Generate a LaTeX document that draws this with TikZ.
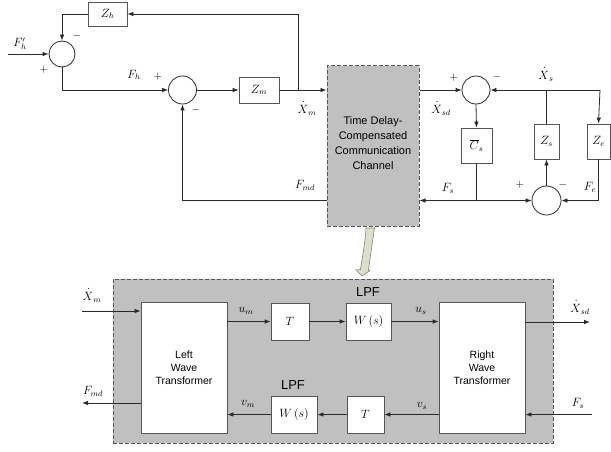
\documentclass[tikz,border=0pt]{standalone}
\usepackage{amsmath}
\usepackage[no-math]{fontspec}
\newfontfamily\arial{Liberation Sans}
\usetikzlibrary{arrows.meta}
\definecolor{chgray}{HTML}{C0C0C0}
\definecolor{linec}{HTML}{2A2A2A}
\definecolor{boxc}{HTML}{555555}
\definecolor{bendfill}{HTML}{DCE0C8}
\newcommand{\dX}{\overset{\kern1.5pt\displaystyle .}{X}}
\begin{document}
\begin{tikzpicture}[x=1pt,y=-1pt,
  ln/.style={draw=linec, line width=0.8pt},
  arr/.style={ln, -{Latex[length=6pt,width=4.6pt]}},
  blk/.style={draw=boxc, fill=white, line width=0.8pt, inner sep=0pt, font=\fontsize{12}{14}\selectfont},
  sumc/.style={circle, draw=linec, fill=white, line width=0.8pt, inner sep=0pt, minimum size=28pt},
  lab/.style={inner sep=0pt, font=\fontsize{12}{14}\selectfont},
  sgn/.style={inner sep=0pt, font=\fontsize{11}{12}\selectfont},
  chan/.style={draw=boxc, fill=chgray, line width=1pt, dash pattern=on 4pt off 2pt},
  sans/.style={inner sep=0pt, align=center},
]
\useasboundingbox (0,0) rectangle (611,452);

% ---------------- top diagram ----------------
\node[blk, minimum width=39pt, minimum height=24pt] (zh) at (107.5,14) {$Z_h$};
\node[sumc, minimum size=26pt] (s1) at (62,54) {};
\node[sumc] (s2) at (182.5,90) {};
\node[blk, minimum width=40pt, minimum height=26pt] (zm) at (259,90) {$Z_m$};
\node[chan, minimum width=92pt, minimum height=160pt] (ch) at (373,146) {};
\node[sans, font=\arial\fontsize{11}{15}\selectfont] (cht) at (373,143) {Time Delay-\\Compensated\\Communication\\Channel};
\node[sumc] (s3) at (476,90) {};
\node[blk, minimum width=31pt, minimum height=35pt] (cs) at (476.5,145.5) {$\overline{C}_s$};
\node[blk, minimum width=25pt, minimum height=35pt] (zs) at (546.5,141.5) {$Z_s$};
\node[blk, minimum width=23pt, minimum height=35pt] (ze) at (598.5,141.5) {$Z_e$};
\node[sumc, minimum size=29pt] (s4) at (546.5,200.5) {};

\coordinate (fin) at (8,54);
\coordinate (b1) at (298,90);
\coordinate (fmd) at (327,200);
\coordinate (j1) at (476.5,200.5);
\coordinate (xsr) at (600,90);

\draw[arr] (fin) -- (s1.west);
\draw[arr] (zh.west) -| (s1.north);
\draw[arr] (s1.south) |- (s2.west);
\draw[arr] (s2.east) -- (zm.west);
\draw[arr] (zm.east) -- (ch.west |- zm.east);
\draw[arr] (b1) |- (zh.east);
\draw[arr] (fmd) -| (s2.south);
\draw[arr] (ch.east |- s3.west) -- (s3.west);
\draw[arr] (s3.south) -- (cs.north);
\draw[ln] (cs.south) -- (j1);
\draw[arr] (j1) -- (ch.east |- j1);
\draw[arr] (j1) -- (s4.west);
\draw[arr] (s4.north) -- (zs.south);
\draw[ln] (zs.north) -- (zs.north |- xsr);
\draw[arr] (xsr) -- (s3.east);
\draw[arr] (xsr) -- (ze.north);
\draw[arr] (ze.south) |- (s4.east);

% labels top
\node[lab] (lfh1) at (20,44) {$F_h'$};
\node[lab] (lfh) at (134,75) {$F_h$};
\node[lab] (lxm) at (307,108) {$\dX_m$};
\node[lab] (lfmd) at (305,185) {$F_{md}$};
\node[lab] (lxsd) at (441,108) {$\dX_{sd}$};
\node[lab] (lxs) at (546,74) {$\dX_s$};
\node[lab] (lfs) at (448,188) {$F_s$};
\node[lab] (lfe) at (590,187) {$F_e$};

\node[sgn] (p1) at (44,70) {$+$};
\node[sgn] (m1) at (77,36) {$-$};
\node[sgn] (p2) at (158,77) {$+$};
\node[sgn] (m2) at (196,110) {$-$};
\node[sgn] (p3) at (454,78) {$+$};
\node[sgn] (m3) at (497,77) {$-$};
\node[sgn] (p4) at (520,185) {$+$};
\node[sgn] (m4) at (563,185) {$-$};

% bent block arrow
\draw[draw=black!50, fill=bendfill, line width=0.6pt]
  (366,228) .. controls (365,245) and (362,258) .. (360.5,269.5)
  -- (356,270) -- (362,276) -- (370,270.5) -- (368.5,270)
  .. controls (370,258) and (372,245) .. (374.5,228) -- cycle;

% ---------------- lower diagram ----------------
\node[chan, minimum width=440pt, minimum height=164pt] (lb) at (333,361) {};
\node[blk, minimum width=86pt, minimum height=131pt] (lwt) at (184,367.5) {};
\node[sans, font=\arial\fontsize{10.5}{13}\selectfont] (lwtt) at (184,368) {Left\\Wave\\Transformer};
\node[blk, minimum width=86pt, minimum height=131pt] (rwt) at (482,367.5) {};
\node[sans, font=\arial\fontsize{10.5}{13}\selectfont] (rwtt) at (482,368) {Right\\Wave\\Transformer};
\node[blk, minimum width=38pt, minimum height=37pt] (t1) at (290,321.5) {$T$};
\node[blk, minimum width=45pt, minimum height=37pt] (w1) at (368.5,321.5) {$W\,(s)$};
\node[blk, minimum width=46pt, minimum height=37pt] (w2) at (294,414.5) {$W\,(s)$};
\node[blk, minimum width=37pt, minimum height=37pt] (t2) at (365.5,414.5) {$T$};
\node[sans, font=\arial\fontsize{13}{15}\selectfont] (lpf1) at (368,292) {LPF};
\node[sans, font=\arial\fontsize{13}{15}\selectfont] (lpf2) at (293,385) {LPF};

\coordinate (xin) at (82,311);
\coordinate (fout) at (82,403);
\coordinate (xout) at (590,322);
\coordinate (fsin) at (592,414.5);

\draw[arr] (xin) -- (lwt.west |- xin);
\draw[arr] (lwt.west |- fout) -- (fout);
\draw[arr] (lwt.east |- t1.west) -- (t1.west);
\draw[arr] (t1.east) -- (w1.west);
\draw[arr] (w1.east) -- (rwt.west |- w1.east);
\draw[arr] (rwt.east |- xout) -- (xout);
\draw[arr] (fsin) -- (rwt.east |- fsin);
\draw[arr] (rwt.west |- t2.east) -- (t2.east);
\draw[arr] (t2.west) -- (w2.east);
\draw[arr] (w2.west) -- (lwt.east |- w2.west);

\node[lab] (lxm2) at (92,295) {$\dX_m$};
\node[lab] (lfmd2) at (93,391) {$F_{md}$};
\node[lab] (lum) at (246,311) {$u_m$};
\node[lab] (lvm) at (248,404) {$v_m$};
\node[lab] (lus) at (421,311) {$u_s$};
\node[lab] (lvs) at (422,406) {$v_s$};
\node[lab] (lxsd2) at (580,307) {$\dX_{sd}$};
\node[lab] (lfs2) at (578,403) {$F_s$};
\end{tikzpicture}
\end{document}
